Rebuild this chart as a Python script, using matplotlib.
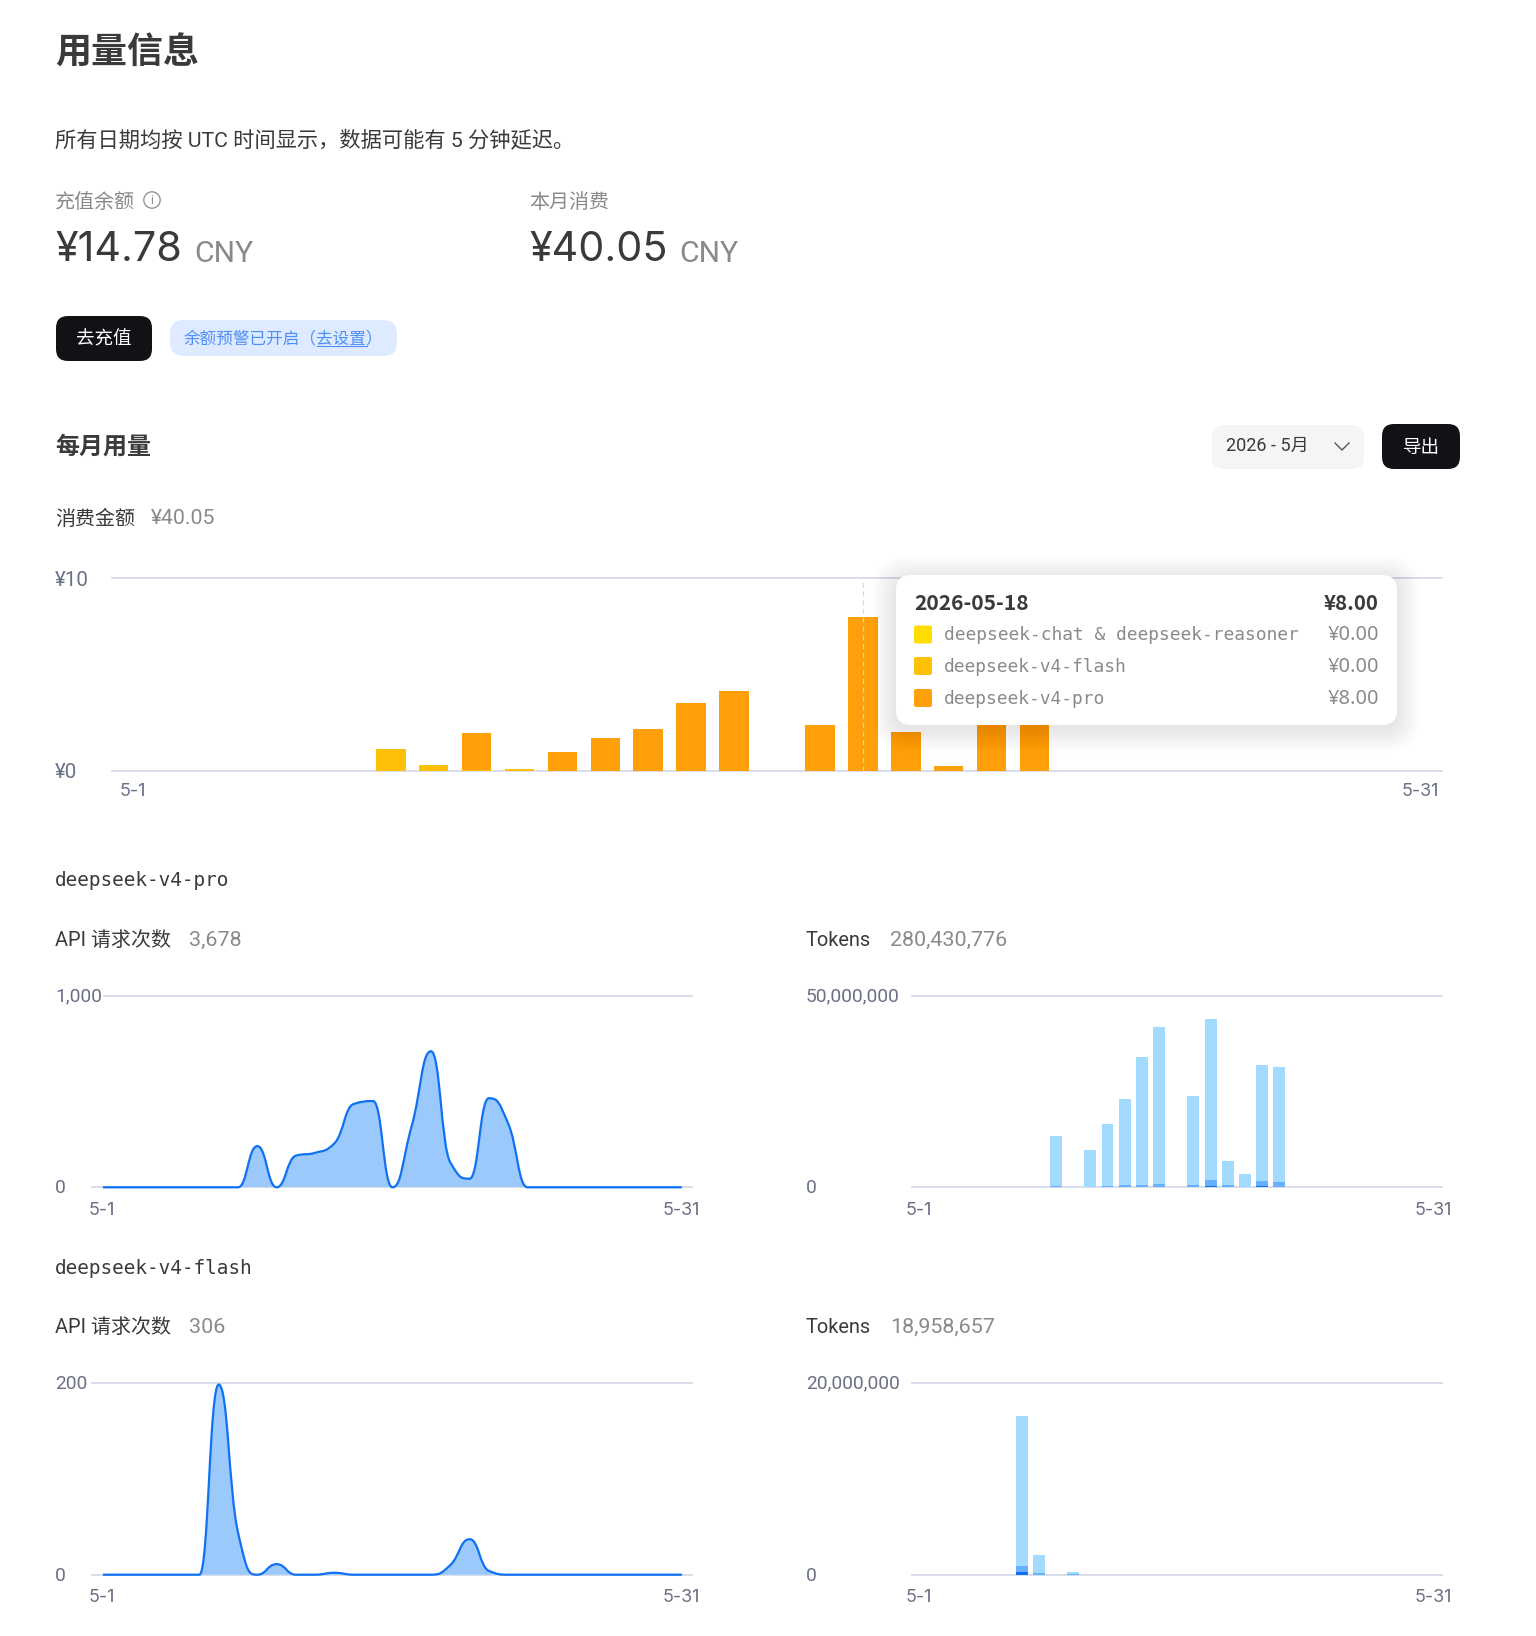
import matplotlib
matplotlib.use("Agg")
import matplotlib.pyplot as plt
from matplotlib.patches import Circle, FancyBboxPatch, PathPatch
from matplotlib.path import Path

W, H = 1536, 1636
SANS = ["Roboto", "Noto Sans CJK SC"]
TICK_SANS = ["Inter"]
BOLD_SANS = ["Noto Sans CJK SC"]
MONO = ["DejaVu Sans Mono"]

DARK = "#3a3a3a"
GREY = "#8a8a8a"
AXIS_TEXT = "#6b7086"
GRID = "#d3d7e8"

days = list(range(1, 32))

# spend per day, CNY
cost_flash = [0, 0, 0, 0, 0, 0, 1.14, 0.30, 0.05, 0.10, 0, 0, 0, 0, 0, 0, 0, 0, 0, 0, 0, 0, 0, 0, 0, 0, 0, 0, 0, 0, 0]
cost_pro = [0, 0, 0, 0, 0, 0, 0, 0, 1.90, 0, 1.00, 1.70, 2.20, 3.55, 4.15, 0, 2.40, 8.00, 2.05, 0.25, 6.70, 6.56, 0, 0, 0, 0, 0, 0, 0, 0, 0]

# API requests per day
pro_requests = [0, 0, 0, 0, 0, 0, 0, 0, 215, 0, 165, 180, 230, 435, 450, 0, 320, 710, 130, 45, 465, 333, 0, 0, 0, 0, 0, 0, 0, 0, 0]
flash_requests = [0, 0, 0, 0, 0, 0, 198, 44, 0, 11, 0, 0, 2, 0, 0, 0, 0, 0, 10, 37, 4, 0, 0, 0, 0, 0, 0, 0, 0, 0, 0]

# tokens per day, split into output / cache miss / cache hit
pro_output = [0, 0, 0, 0, 0, 0, 0, 0, 0.03, 0, 0.02, 0.03, 0.05, 0.08, 0.09, 0, 0.05, 0.30, 0.05, 0.01, 0.28, 0.08, 0, 0, 0, 0, 0, 0, 0, 0, 0]
pro_miss = [0, 0, 0, 0, 0, 0, 0, 0, 0.37, 0, 0.18, 0.27, 0.45, 0.62, 0.76, 0, 0.50, 1.60, 0.55, 0.09, 1.37, 1.37, 0, 0, 0, 0, 0, 0, 0, 0, 0]
pro_hit = [0, 0, 0, 0, 0, 0, 0, 0, 13.0, 0, 9.6, 16.3, 22.6, 33.4, 41.0, 0, 23.3, 42.0, 6.3, 3.4, 30.2, 29.9, 0, 0, 0, 0, 0, 0, 0, 0, 0]
flash_output = [0, 0, 0, 0, 0, 0, 0.28, 0.02, 0, 0, 0, 0, 0, 0, 0, 0, 0, 0, 0, 0, 0, 0, 0, 0, 0, 0, 0, 0, 0, 0, 0]
flash_miss = [0, 0, 0, 0, 0, 0, 0.59, 0.18, 0, 0.03, 0, 0, 0, 0, 0, 0, 0, 0, 0, 0, 0, 0, 0, 0, 0, 0, 0, 0, 0, 0, 0]
flash_hit = [0, 0, 0, 0, 0, 0, 15.68, 1.90, 0, 0.28, 0, 0, 0, 0, 0, 0, 0, 0, 0, 0, 0, 0, 0, 0, 0, 0, 0, 0, 0, 0, 0]

tooltip_rows = [
    ("deepseek-chat & deepseek-reasoner", "¥0.00", "#ffdd00"),
    ("deepseek-v4-flash", "¥0.00", "#ffc107"),
    ("deepseek-v4-pro", "¥8.00", "#ff9f0a"),
]

fig = plt.figure(figsize=(W / 100, H / 100), dpi=100, facecolor="white")

page = fig.add_axes([0, 0, 1, 1], zorder=10)
page.set_xlim(0, W)
page.set_ylim(H, 0)
page.axis("off")
page.patch.set_alpha(0)


def txt(x, y, s, px, color=DARK, weight="normal", ha="left", family=None, **kw):
    return page.text(x, y + 2, s, fontsize=px * 0.72, color=color, weight=weight, ha=ha,
                     va="center", family=family or SANS, **kw)


def rounded(x0, y0, x1, y1, r, color, **kw):
    box = FancyBboxPatch((x0, y0), x1 - x0, y1 - y0, boxstyle=f"round,pad=0,rounding_size={r}",
                         fc=color, ec="none", **kw)
    page.add_patch(box)
    return box


def chart_axes(left, right, top, base, day1, step, ymax):
    ax = fig.add_axes([left / W, 1 - base / H, (right - left) / W, (base - top) / H])
    ax.set_xlim(1 + (left - day1) / step, 1 + (right - day1) / step)
    ax.set_ylim(0, ymax)
    ax.axis("off")
    for level in (0, ymax):
        ax.axhline(level, color=GRID, lw=1.2, zorder=1, clip_on=False)
    return ax


def stacked(ax, width, layers):
    bottom = [0.0] * len(days)
    for values, color in layers:
        ax.bar(days, values, width, bottom=bottom, color=color, linewidth=0, zorder=2)
        bottom = [b + v for b, v in zip(bottom, values)]


def monotone_tangents(y):
    # unit x spacing, flat at local extrema
    slopes = [b - a for a, b in zip(y[:-1], y[1:])]
    m = [slopes[0]]
    for s0, s1 in zip(slopes[:-1], slopes[1:]):
        if s0 * s1 <= 0:
            m.append(0.0)
        else:
            sign = 1 if s0 > 0 else -1
            m.append(2 * sign * min(abs(s0), abs(s1), abs(s0 + s1) / 4))
    m.append(slopes[-1])
    return m


def smooth_area(ax, x, y, pull=0.48):
    m = monotone_tangents(y)
    verts = [(x[0], y[0])]
    codes = [Path.MOVETO]
    for i in range(len(x) - 1):
        verts += [(x[i] + pull, y[i] + m[i] * pull), (x[i + 1] - pull, y[i + 1] - m[i + 1] * pull), (x[i + 1], y[i + 1])]
        codes += [Path.CURVE4] * 3
    line = Path(verts, codes)
    fill = Path(verts + [(x[-1], 0), (x[0], 0), (x[0], 0)],
                codes + [Path.LINETO, Path.LINETO, Path.CLOSEPOLY])
    ax.add_patch(PathPatch(fill, fc="#9bc9fc", ec="none", zorder=2))
    ax.add_patch(PathPatch(line, fc="none", ec="#1071f2", lw=1.6, zorder=3, clip_on=False, capstyle="butt"))


# header block
txt(55, 51, "用量信息", 36, weight="bold", family=BOLD_SANS)
txt(55, 138, "所有日期均按 UTC 时间显示，数据可能有 5 分钟延迟。", 21.3)
txt(55, 200, "充值余额", 20, GREY)
page.add_patch(Circle((152, 200), 8.2, fc="none", ec=GREY, lw=0.9))
txt(152, 198, "i", 12, GREY, ha="center")
txt(55, 248, "¥14.78", 41.25, family=TICK_SANS)
txt(194, 252, "CNY", 30, GREY)
txt(529, 200, "本月消费", 20, GREY)
txt(529, 248, "¥40.05", 41.25, family=TICK_SANS)
txt(679, 252, "CNY", 30, GREY)

rounded(56, 316, 152, 361, 12, "#111216")
txt(104, 338, "去充值", 18.5, "white", ha="center")
rounded(170, 320, 397, 356, 14, "#deeaff")
txt(184, 336, "余额预警已开启（去设置）", 16.6, "#4d8ef7")
page.plot([317, 367], [346, 346], color="#4d8ef7", lw=0.8)

# monthly usage header
txt(55, 445, "每月用量", 24, weight="bold", family=BOLD_SANS)
rounded(1212, 425, 1364, 469, 12, "#f5f5f5")
txt(1226, 444, "2026 - 5月", 18)
page.plot([1335, 1342, 1349], [443, 450, 443], color="#555555", lw=1.0)
rounded(1382, 424, 1460, 469, 12, "#111216")
txt(1421, 446, "导出", 18.5, "white", ha="center")

# spend chart
txt(55, 517, "消费金额", 20)
txt(151, 517, "¥40.05", 21.3, GREY)
ax_cost = chart_axes(112, 1442, 578.5, 771, 133.2, 42.92, 10)
stacked(ax_cost, 0.69, [(cost_flash, "#ffc107"), (cost_pro, "#ff9f0a")])
ax_cost.plot([18, 18], [0, 10], color=GRID, lw=0.9, ls=(0, (4, 3)), zorder=4)
txt(55, 578, "¥10", 20.5, AXIS_TEXT)
txt(55, 770, "¥0", 20.5, AXIS_TEXT)
txt(133, 790, "5-1", 18, AXIS_TEXT, ha="center", family=TICK_SANS)
txt(1420, 790, "5-31", 18, AXIS_TEXT, ha="center", family=TICK_SANS)

# model panels
panels = [
    ("deepseek-v4-pro", 878, 938, 995.7, 1187.3, "3,678", "280,430,776",
     pro_requests, 1000, "1,000", pro_output, pro_miss, pro_hit, 50, "50,000,000"),
    ("deepseek-v4-flash", 1266.5, 1325.5, 1382.7, 1574.7, "306", "18,958,657",
     flash_requests, 200, "200", flash_output, flash_miss, flash_hit, 20, "20,000,000"),
]
for name, name_y, head_y, top, base, req_total, tok_total, requests, req_max, req_label, out, miss, hit, tok_max, tok_label in panels:
    txt(55, name_y, name, 19.4, family=MONO)
    txt(55, head_y, "API 请求次数", 20)
    txt(189, head_y, req_total, 21.5, GREY)
    txt(806, head_y, "Tokens", 20)
    txt(890, head_y, tok_total, 21.5, GREY)

    ax_req = chart_axes(92, 692, top, base, 102.9, 19.3, req_max)
    smooth_area(ax_req, days, requests)
    txt(55, top - 1, req_label, 19.2, AXIS_TEXT, bbox=dict(fc="white", ec="none", pad=1))
    txt(55, base - 1, "0", 19.2, AXIS_TEXT)
    txt(102, base + 21, "5-1", 18, AXIS_TEXT, ha="center", family=TICK_SANS)
    txt(681, base + 21, "5-31", 18, AXIS_TEXT, ha="center", family=TICK_SANS)

    ax_tok = chart_axes(911.5, 1442, top, base, 918.7, 17.17, tok_max)
    stacked(ax_tok, 0.69, [(out, "#0f6ff0"), (miss, "#66b0ff"), (hit, "#a3dbff")])
    txt(806, top - 1, tok_label, 19.2, AXIS_TEXT)
    txt(806, base - 1, "0", 19.2, AXIS_TEXT)
    txt(919, base + 21, "5-1", 18, AXIS_TEXT, ha="center", family=TICK_SANS)
    txt(1433, base + 21, "5-31", 18, AXIS_TEXT, ha="center", family=TICK_SANS)

# tooltip with a soft stacked shadow
tx0, ty0, tx1, ty1 = 896, 575, 1397, 725
for grow in range(1, 25):
    rounded(tx0 - grow, ty0 - grow + 4, tx1 + grow, ty1 + grow + 4, 15 + grow, "black", alpha=0.0042)
rounded(tx0, ty0, tx1, ty1, 15, "white")
txt(914, 602, "2026-05-18", 21, weight="bold", family=BOLD_SANS)
txt(1379, 602, "¥8.00", 20.5, weight="bold", ha="right", family=BOLD_SANS)
for row_y, (label, amount, color) in zip((634.5, 666, 698), tooltip_rows):
    rounded(914, row_y - 9, 932, row_y + 9, 2, color)
    txt(944, row_y - 1, label, 17.9, GREY, family=MONO)
    txt(1379, row_y - 1, amount, 20, GREY, ha="right", family=["Noto Sans"])

fig.savefig("out.png", dpi=100)
